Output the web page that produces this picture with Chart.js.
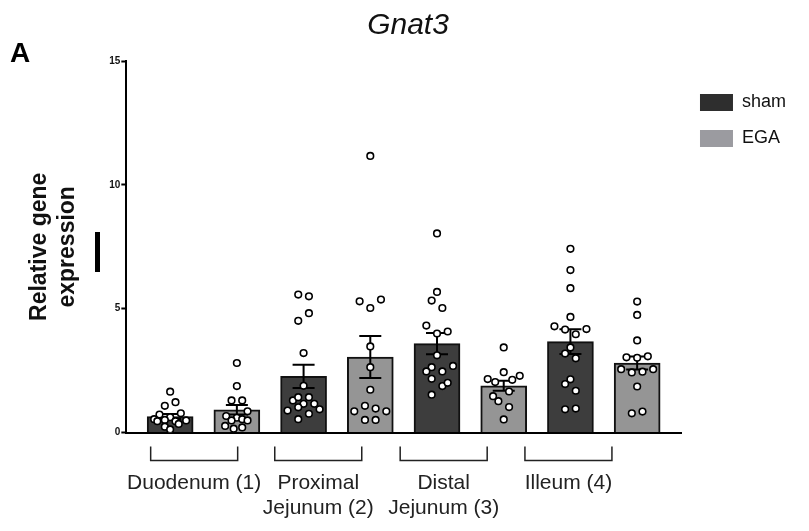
<!DOCTYPE html>
<html>
<head>
<meta charset="utf-8">
<script src="https://cdn.jsdelivr.net/npm/chart.js@4.4.1/dist/chart.umd.min.js"></script>
<style>
  html, body { margin: 0; padding: 0; background: #fff; }
  #wrap { width: 809px; height: 531px; }
</style>
</head>
<body>
<div id="wrap"><canvas id="chart" width="809" height="531"></canvas></div>
<script>
// group labels under the brackets
const groupLabels = [["Duodenum (1)"], ["Proximal", "Jejunum (2)"], ["Distal", "Jejunum (3)"], ["Illeum (4)"]];
const groupTickPos = [1.36, 3.22, 5.1, 6.97];

// bar positions on the x axis
const shamX = [1, 3, 5, 7];
const egaX = [2, 4, 6, 8];

// means and SEM
const shamMean = [0.65, 2.27, 3.59, 3.67];
const shamSem = [0.1, 0.47, 0.43, 0.5];
const egaMean = [0.92, 3.05, 1.89, 2.81];
const egaSem = [0.19, 0.85, 0.2, 0.26];

// individual animals
const shamPts = [
  [1.65, 1.08, 1.23, 0.73, 0.62, 0.78, 0.54, 0.46, 0.51, 0.46, 0.49, 0.24, 0.13, 0.35],
  [5.57, 5.5, 4.82, 4.51, 3.21, 1.89, 1.3, 1.43, 1.43, 1.16, 0.89, 1.02, 0.76, 1.16, 0.94, 0.54],
  [8.04, 5.68, 5.33, 5.03, 4.32, 4.0, 4.08, 3.12, 2.64, 2.47, 2.69, 2.47, 2.17, 1.88, 2.01, 1.53],
  [7.42, 6.56, 5.83, 4.67, 4.29, 4.16, 3.97, 4.18, 3.44, 3.19, 3.0, 2.15, 1.96, 1.69, 0.94, 0.97]
];
const shamJit = [
  [0, -1, 1, -2, 0, 2, -3, -2.4, -1, 1, 3, -1, 0, 1.6],
  [-1, 1, 1, -1, 0, 0, -2, -1, 1, 0, -3, -1, 1, 2, 3, -1],
  [0, 0, -1, 1, -2, 0, 2, 0, -1, 1, 3, -2, -1, 1, 2, -1],
  [0, 0, 0, 0, -3, -1, 1, 3, 0, -1, 1, 0, -1, 1, -1, 1]
];
const egaPts = [
  [2.81, 1.88, 1.3, 1.3, 0.86, 0.67, 0.6, 0.49, 0.54, 0.49, 0.27, 0.16, 0.21],
  [11.17, 5.3, 5.37, 5.03, 3.48, 2.64, 1.73, 1.08, 0.97, 0.86, 0.86, 0.51, 0.51],
  [3.44, 2.16, 2.44, 2.29, 2.04, 2.13, 1.66, 1.47, 1.27, 1.03, 0.53],
  [5.29, 4.75, 3.72, 3.04, 3.02, 3.08, 2.56, 2.43, 2.46, 2.56, 1.86, 0.78, 0.85]
];
const egaJit = [
  [0, 0, -1, 1, 2, -2, 0, -1, 1, 2, -2.2, -0.6, 1],
  [0, -2, 2, 0, 0, 0, 0, -1, 1, -3, 3, -1, 1],
  [0, -3, 0, 3, -1.6, 1.6, 1, -2, -1, 1, 0],
  [0, 0, 0, -2, 0, 2, -3, -1, 1, 3, 0, -1, 1]
];

const JIT = 0.08; // x-units per jitter step

function toPoints(xs, pts, jit) {
  let out = [];
  pts.forEach((arr, g) => {
    arr.forEach((v, k) => out.push({ x: xs[g] + jit[g][k] * JIT, y: v }));
  });
  return out;
}

Chart.defaults.font.family = '"Liberation Sans", Arial, sans-serif';
Chart.defaults.color = "#111";

// error bars + brackets + panel letter
const extras = {
  id: "extras",
  afterDatasetDraw(chart, args) {
    const ds = chart.data.datasets[args.index];
    if (!ds.sem) return;
    const ctx = chart.ctx;
    const xs = chart.scales.x, ys = chart.scales.y;
    ctx.save();
    ctx.strokeStyle = "#000";
    ctx.lineWidth = 2;
    ds.data.forEach((d, i) => {
      const px = xs.getPixelForValue(d.x);
      const hi = ys.getPixelForValue(d.y + ds.sem[i]);
      const lo = ys.getPixelForValue(d.y - ds.sem[i]);
      ctx.beginPath();
      ctx.moveTo(px, hi); ctx.lineTo(px, lo);
      ctx.moveTo(px - 11, hi); ctx.lineTo(px + 11, hi);
      ctx.moveTo(px - 11, lo); ctx.lineTo(px + 11, lo);
      ctx.stroke();
    });
    ctx.restore();
  },
  afterDraw(chart) {
    const ctx = chart.ctx;
    const xs = chart.scales.x;
    const b = chart.chartArea.bottom;
    ctx.save();
    ctx.strokeStyle = "#222";
    ctx.lineWidth = 1.5;
    groupTickPos.forEach(v => {
      const c = xs.getPixelForValue(v);
      ctx.beginPath();
      ctx.moveTo(c - 43.5, b + 14);
      ctx.lineTo(c - 43.5, b + 28);
      ctx.lineTo(c + 43.5, b + 28);
      ctx.lineTo(c + 43.5, b + 14);
      ctx.stroke();
    });
    ctx.fillStyle = "#000";
    ctx.font = 'bold 28px "Liberation Sans", Arial, sans-serif';
    ctx.textBaseline = "alphabetic";
    ctx.fillText("A", 10, 62);
    // stray mark left of the y axis
    ctx.fillRect(95, 232, 5, 40);
    ctx.restore();
  }
};

new Chart(document.getElementById("chart").getContext("2d"), {
  type: "bar",
  data: {
    datasets: [
      {
        type: "scatter",
        label: "sham pts",
        data: toPoints(shamX, shamPts, shamJit),
        pointRadius: 3.3,
        pointBorderWidth: 1.6,
        pointBorderColor: "#000",
        pointBackgroundColor: "#fff",
        order: 1
      },
      {
        type: "scatter",
        label: "EGA pts",
        data: toPoints(egaX, egaPts, egaJit),
        pointRadius: 3.3,
        pointBorderWidth: 1.6,
        pointBorderColor: "#000",
        pointBackgroundColor: "#fff",
        order: 1
      },
      {
        label: "sham",
        data: shamX.map((x, i) => ({ x: x, y: shamMean[i] })),
        sem: shamSem,
        backgroundColor: "#3d3d3d",
        borderColor: "#111",
        borderWidth: 2,
        barThickness: 46,
        grouped: false,
        order: 2
      },
      {
        label: "EGA",
        data: egaX.map((x, i) => ({ x: x, y: egaMean[i] })),
        sem: egaSem,
        backgroundColor: "#959595",
        borderColor: "#111",
        borderWidth: 2,
        barThickness: 46,
        grouped: false,
        order: 2
      }
    ]
  },
  options: {
    responsive: false,
    animation: false,
    events: [],
    layout: { padding: { left: 20, right: 13, top: 0, bottom: -28 } },
    scales: {
      x: {
        type: "linear",
        offset: false,
        min: 0.343,
        max: 8.672,
        grid: { display: false, drawTicks: false, offset: false },
        border: { display: true, color: "#000", width: 2 },
        afterBuildTicks: (scale) => {
          scale.ticks = groupTickPos.map(v => ({ value: v }));
        },
        ticks: {
          autoSkip: false,
          maxRotation: 0,
          padding: 38,
          color: "#222",
          font: { size: 21, lineHeight: 1.2 },
          callback: (v, i) => groupLabels[i]
        }
      },
      y: {
        min: 0,
        max: 15,
        grid: { drawOnChartArea: false, tickLength: 5, tickWidth: 2, tickColor: "#000" },
        border: { color: "#000", width: 2 },
        ticks: { stepSize: 5, padding: 1, color: "#111", font: { size: 10, weight: "bold" } },
        title: {
          display: true,
          text: ["Relative gene", "expression"],
          color: "#111",
          font: { size: 23, weight: "bold", lineHeight: 1.2 },
          padding: { top: 6, bottom: 27 }
        }
      }
    },
    plugins: {
      title: {
        display: true,
        text: "Gnat3",
        color: "#111",
        font: { size: 30, style: "italic", weight: "normal", lineHeight: 1.2 },
        padding: { top: 8, bottom: 17 }
      },
      legend: {
        position: "right",
        align: "start",
        fullSize: false,
        title: { display: true, text: "", padding: 0, font: { size: 12, lineHeight: 1.2 } },
        labels: {
          boxWidth: 33,
          boxHeight: 17,
          padding: 18,
          color: "#111",
          font: { size: 18 },
          generateLabels: (chart) => {
            const items = Chart.defaults.plugins.legend.labels.generateLabels(chart);
            return items
              .filter(it => it.text === "sham" || it.text === "EGA")
              .map(it => Object.assign(it, {
                lineWidth: 0,
                strokeStyle: "rgba(0,0,0,0)",
                fillStyle: it.text === "sham" ? "#2e2e2e" : "#9b9ba0"
              }));
          }
        }
      },
      tooltip: { enabled: false }
    }
  },
  plugins: [extras]
});
</script>
</body>
</html>
